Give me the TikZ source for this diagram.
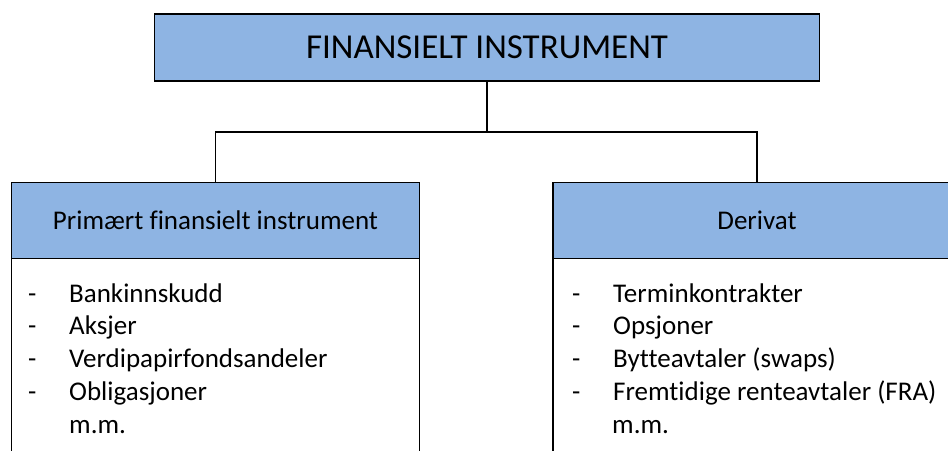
\documentclass[tikz,border=0pt]{standalone}
\usepackage{fontspec}
\setmainfont{Carlito}[Ligatures=NoCommon]
\usetikzlibrary{positioning}
\definecolor{boxblue}{RGB}{142,180,227}
\tikzset{
  titlebox/.style={rectangle, draw=black, fill=boxblue, line width=1.3pt, outer sep=0pt, minimum width=665pt, minimum height=67pt, inner sep=0pt, font=\fontsize{35}{40}\selectfont},
  headbox/.style={rectangle, draw=black, fill=boxblue, line width=1.3pt, outer sep=0pt, minimum width=408pt, minimum height=76pt, inner sep=0pt, font=\fontsize{27}{32}\selectfont},
  listbox/.style={rectangle, draw=black, fill=white, line width=1.3pt, outer sep=0pt, minimum width=408pt, minimum height=212pt, inner sep=0pt},
  listtext/.style={anchor=base west, align=left, inner sep=0pt, font=\fontsize{27}{32.75}\selectfont},
  link/.style={draw=black, line width=1.3pt}
}
\newcommand{\itm}[1]{\makebox[41pt][l]{-}#1}
\begin{document}
\begin{tikzpicture}[x=1pt,y=-1pt]
\clip (0,0) rectangle (948,450);
\node (T) at (487,47.5) [titlebox] {FINANSIELT INSTRUMENT};

\node (P) at (215.5,220.5) [headbox] {Primært finansielt instrument};
\node (D) at (757,220.5) [headbox] {Derivat};
\node (PL) [listbox, below=0pt of P] {};
\node (DL) [listbox, below=0pt of D] {};

\coordinate (J) at (487,132);
\draw [link] (T.south) -- (J);
\draw [link] (P.north) |- (J) -| (D.north);

% base of a multi-line node = last line (m.m.)
\node (PT) at (28,433) [listtext] {\itm{Bankinnskudd}\\ \itm{Aksjer}\\ \itm{Verdipapirfondsandeler}\\ \itm{Obligasjoner}\\ \hspace*{41pt}m.m.};
\node (DT) at (572,433) [listtext] {\itm{Terminkontrakter}\\ \itm{Opsjoner}\\ \itm{Bytteavtaler (swaps)}\\ \itm{Fremtidige renteavtaler (FRA)}\\ \hspace*{40pt}m.m.};
\end{tikzpicture}
\end{document}
